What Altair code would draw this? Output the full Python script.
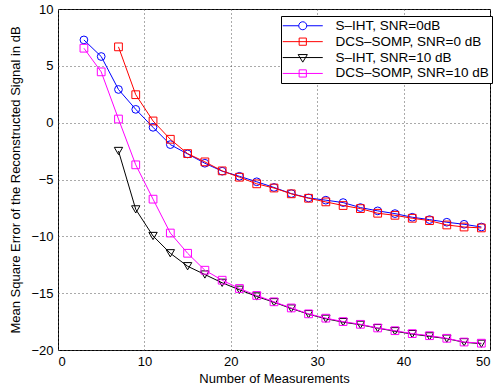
import altair as alt
import pandas as pd

FONT = "Liberation Sans"

series_names = ["S–IHT, SNR=0dB", "DCS–SOMP, SNR=0 dB", "S–IHT, SNR=10 dB", "DCS–SOMP, SNR=10 dB"]
series_colors = ["#0000ff", "#ff0000", "#000000", "#ff00ff"]
series_shapes = ["circle", "square", "triangle-down", "square"]

x_full = list(range(3, 50, 2))   # 3..49
x_from7 = list(range(7, 50, 2))  # 7..49

siht_0 = [7.28, 5.82, 2.92, 1.17, -0.41, -1.93, -2.75, -3.57, -4.27, -4.72, -5.2, -5.7,
          -6.24, -6.62, -6.82, -7.03, -7.47, -7.76, -8.0, -8.32, -8.53, -8.76, -8.94, -9.18]
somp_0 = [6.67, 2.46, 0.15, -1.46, -2.72, -3.45, -4.24, -4.8, -5.38, -5.75,
          -6.26, -6.65, -6.97, -7.29, -7.56, -7.97, -8.15, -8.41, -8.62, -9.0, -9.18, -9.26]
siht_10 = [-2.49, -7.63, -9.97, -11.49, -12.63, -13.36, -14.09, -14.7, -15.29, -15.8,
           -16.35, -16.85, -17.25, -17.55, -17.78, -18.08, -18.35, -18.6, -18.8, -19.0, -19.32, -19.45]
somp_10 = [6.55, 4.47, 0.32, -3.71, -6.73, -9.71, -11.49, -12.98, -13.86, -14.59, -15.2, -15.76,
           -16.3, -16.82, -17.2, -17.5, -17.74, -18.06, -18.3, -18.56, -18.74, -18.97, -19.3, -19.4]

x_ticks = [0, 10, 20, 30, 40, 50]
y_ticks = [-20, -15, -10, -5, 0, 5, 10]

# legend glyphs: line with marker (unit box -1..1)
legend_paths = [
    "M-5,0H-1M1,0H5M-1,0A1,1 0 1,1 1,0A1,1 0 1,1 -1,0Z",
    "M-5,0H5M-0.9,-0.9H0.9V0.9H-0.9Z",
    "M-5,0H5M-1.15,-0.75L1.15,-0.75L0,1.15Z",
    "M-5,0H5M-0.9,-0.9H0.9V0.9H-0.9Z",
]

rows = []
for name, xs, ys in [(series_names[0], x_full, siht_0), (series_names[1], x_from7, somp_0),
                     (series_names[2], x_from7, siht_10), (series_names[3], x_full, somp_10)]:
    for xv, yv in zip(xs, ys):
        rows.append({"series": name, "x": xv, "y": yv})
df = pd.DataFrame(rows)

xenc = alt.X("x:Q", scale=alt.Scale(domain=[0, 50], nice=False),
             axis=alt.Axis(values=x_ticks, title="Number of Measurements"))
yenc = alt.Y("y:Q", scale=alt.Scale(domain=[-20, 10], nice=False),
             axis=alt.Axis(values=y_ticks, title="Mean Square Error of the Reconstructed Signal in dB"))

base = alt.Chart(df)
layers = []
for name, col, shp in zip(series_names, series_colors, series_shapes):
    sub = base.transform_filter(alt.datum.series == name)
    layers.append(sub.mark_line(strokeWidth=1, color=col).encode(x=xenc, y=yenc))
    layers.append(sub.mark_point(shape=shp, filled=False, size=60 if shp != "triangle-down" else 70,
                                 strokeWidth=1, color=col, opacity=1).encode(x=xenc, y=yenc))

leg = dict(title=None, orient="none", legendX=223, legendY=7,
           symbolSize=64, symbolStrokeWidth=1, symbolOffset=12,
           labelOffset=26, padding=3, rowPadding=0.9,
           strokeColor="black", fillColor="white",
           labelFont=FONT, labelFontSize=13.5, labelColor="black",
           labelLimit=400, symbolFillColor="transparent")

legend_layer = base.transform_filter("datum.x < 0").mark_point(filled=False, strokeWidth=1, opacity=1).encode(
    x=xenc, y=yenc,
    stroke=alt.Stroke("series:N", scale=alt.Scale(domain=series_names, range=series_colors),
                      legend=alt.Legend(**leg)),
    shape=alt.Shape("series:N", scale=alt.Scale(domain=series_names, range=legend_paths),
                    legend=alt.Legend(**leg)),
)
layers.append(legend_layer)

chart = alt.layer(*layers).properties(
    width=432, height=341,
    autosize=alt.AutoSizeParams(type="none"),
    padding={"left": 58, "top": 9, "right": 7, "bottom": 41},
    background="white",
).configure_view(
    stroke="black", strokeWidth=1
).configure_axis(
    grid=True, gridColor="#555555", gridDash=[1, 3], gridWidth=1,
    domain=False, ticks=False, labelPadding=5,
    labelFont=FONT, labelFontSize=13, labelColor="black",
    titleFont=FONT, titleFontSize=13, titleColor="black", titleFontWeight="normal",
).configure_axisX(titlePadding=4).configure_axisY(titlePadding=8)

chart.save("out.html", embed_options={"renderer": "svg", "actions": False})
